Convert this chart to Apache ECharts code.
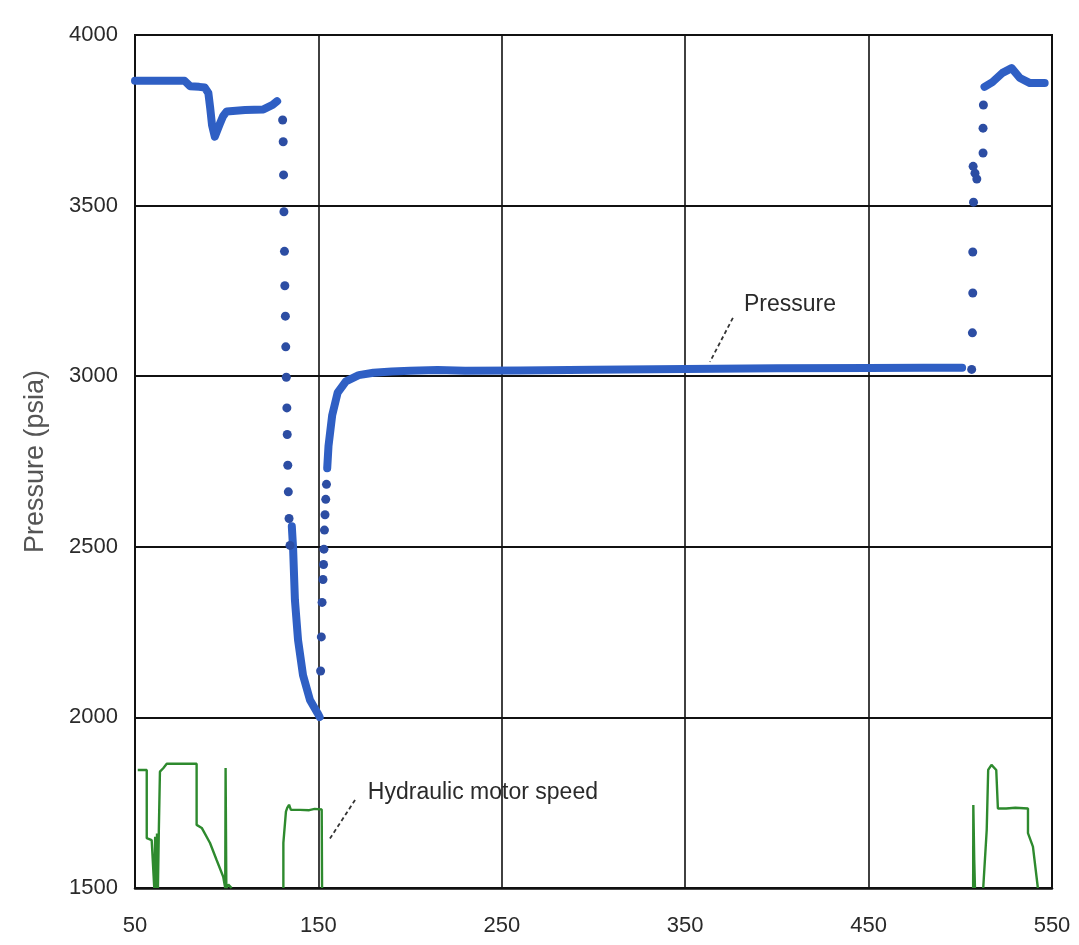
<!DOCTYPE html>
<html lang="en">
<head>
  <meta charset="UTF-8">
  <title>Pressure and hydraulic motor speed</title>
  <style type="text/css">
    html, body { margin: 0; padding: 0; background: #fff; }
    #main { width: 1079px; height: 945px; }
  </style>
</head>
<body>
  <div id="main"></div>
</body>
<script type="text/javascript" src="https://cdn.jsdelivr.net/npm/echarts@6/dist/echarts.min.js"></script>
<script type="text/javascript">
  // axis ticks
  var xTicks = [50, 150, 250, 350, 450, 550]
  var yTicks = [1500, 2000, 2500, 3000, 3500, 4000]

  // pressure, solid (dense) parts - null breaks the line where samples are sparse
  var pressureLine = [
    [50, 3866], [60, 3866], [70, 3866], [77, 3866], [80, 3850], [85, 3848], [88, 3846], [90, 3830],
    [91, 3786], [92, 3736], [93.5, 3702], [96, 3736], [98, 3762], [100, 3776], [110, 3780],
    [120, 3782], [125, 3795], [127.5, 3806],
    null,
    [135.5, 2560], [136.2, 2496], [137.2, 2344], [138.9, 2227], [141.6, 2124], [145.4, 2051],
    [149.5, 2013], [150.7, 2001],
    null,
    [154.8, 2730], [155.5, 2795], [157.5, 2885], [160.5, 2952], [165, 2985], [172, 3003],
    [180, 3010], [190, 3014], [200, 3016], [215, 3018], [230, 3016], [260, 3017], [300, 3019],
    [350, 3021], [400, 3023], [450, 3024], [480, 3025], [501, 3025],
    null,
    [513.2, 3848], [517.5, 3862], [523, 3889], [528, 3903], [532.5, 3874], [538, 3859], [546, 3859]
  ]

  // pressure, sparse samples (drawn as dots)
  var pressureDots = [
    [130.5, 3751], [130.8, 3687], [131, 3590], [131.2, 3482], [131.5, 3366], [131.7, 3265],
    [132, 3176], [132.2, 3086], [132.5, 2997], [132.8, 2907], [133, 2829], [133.3, 2739],
    [133.6, 2661], [134, 2583], [134.5, 2504],
    [151.2, 2136], [151.6, 2236], [152, 2337], [152.5, 2404], [152.8, 2448], [153, 2493],
    [153.3, 2549], [153.6, 2594], [154, 2639], [154.4, 2683],
    [506.2, 3020], [506.6, 3127], [506.8, 3244], [506.8, 3364], [507.2, 3510], [507, 3615],
    [508, 3595], [509, 3578], [512.4, 3654], [512.4, 3727], [512.6, 3795]
  ]

  // hydraulic motor speed (plotted on the same scale, rests on the 1500 line)
  var motorSpeed = [
    [51.5, 1846], [56.4, 1846], [56.4, 1646], [59.1, 1640], [60.5, 1500], [61, 1650], [61.5, 1500],
    [62, 1660], [62.5, 1500], [63, 1670], [63.6, 1841], [65.4, 1851], [67.3, 1864], [75, 1864],
    [83.6, 1864], [83.6, 1685], [86.4, 1676], [90.9, 1632], [94.5, 1582], [98.1, 1533],
    [99.2, 1500], [99.4, 1852], [99.8, 1500], [100.9, 1510], [102.7, 1500],
    null,
    [130.9, 1500], [130.9, 1632], [132.3, 1724], [133, 1735], [134, 1744], [135, 1729],
    [140, 1729], [145, 1728], [148, 1732], [151.8, 1730], [152, 1500],
    null,
    [507, 1500], [507.1, 1743], [507.6, 1582], [508, 1500],
    null,
    [512.5, 1500], [514.4, 1670], [515.2, 1846], [517, 1861], [519.6, 1846], [520.5, 1733],
    [525, 1733], [530, 1735], [536.9, 1733], [536.9, 1661], [539.6, 1621], [542.3, 1500]
  ]

  // annotation anchors in data coordinates: text centre, leader start, leader end
  var pressureNote = { text: 'Pressure', at: [407.1, 3209], from: [376, 3171], to: [363.5, 3042] }
  var speedNote = { text: 'Hydraulic motor speed', at: [239.7, 1778], from: [170, 1758], to: [155.8, 1641] }

  var myChart = echarts.init(document.getElementById('main'))
  var labelFont = { fontFamily: 'Liberation Sans', fontSize: 22, color: '#2a2a2a' }
  var plain = function (v) { return String(v) }

  var option = {
    animation: false,
    backgroundColor: '#fff',
    grid: {
      left: 135, right: 27, top: 35, bottom: 57,
      show: true, borderColor: '#111', borderWidth: 2
    },
    xAxis: {
      type: 'value',
      min: xTicks[0],
      max: xTicks[xTicks.length - 1],
      interval: 100,
      axisLine: { show: true, lineStyle: { color: '#111', width: 2.5 } },
      axisTick: { show: false },
      axisLabel: Object.assign({ margin: 27, formatter: plain }, labelFont),
      splitLine: { show: true, lineStyle: { color: '#111', width: 1.6 } }
    },
    yAxis: {
      type: 'value',
      min: yTicks[0],
      max: yTicks[yTicks.length - 1],
      interval: 500,
      name: 'Pressure (psia)',
      nameLocation: 'middle',
      nameGap: 86,
      nameTextStyle: { fontFamily: 'Liberation Sans', fontSize: 27, color: '#555' },
      axisLine: { show: true, lineStyle: { color: '#111', width: 2 } },
      axisTick: { show: false },
      axisLabel: Object.assign({ margin: 17, formatter: plain }, labelFont),
      splitLine: { show: true, lineStyle: { color: '#111', width: 2 } }
    },
    series: [{
      name: 'Hydraulic motor speed',
      type: 'line',
      data: motorSpeed,
      showSymbol: false,
      connectNulls: false,
      lineStyle: { color: '#2e8a2e', width: 2.4 },
      z: 3
    }, {
      name: 'Pressure',
      type: 'line',
      data: pressureLine,
      showSymbol: false,
      connectNulls: false,
      lineStyle: { color: '#2f5fc4', width: 8, cap: 'round', join: 'round' },
      z: 4
    }, {
      name: 'Pressure samples',
      type: 'scatter',
      data: pressureDots,
      symbol: 'circle',
      symbolSize: 9,
      itemStyle: { color: '#2c4da3', opacity: 1 },
      z: 5
    }]
  }
  myChart.setOption(option)

  // annotations: place text and dashed leaders through the chart's own coordinate system
  function note(n) {
    var p = myChart.convertToPixel('grid', n.at)
    var a = myChart.convertToPixel('grid', n.from)
    var b = myChart.convertToPixel('grid', n.to)
    return [{
      type: 'text', x: p[0], y: p[1],
      style: { text: n.text, fill: '#2a2a2a', font: '23px "Liberation Sans"', textAlign: 'center', textVerticalAlign: 'middle' }
    }, {
      type: 'line', shape: { x1: a[0], y1: a[1], x2: b[0], y2: b[1] },
      style: { stroke: '#333', lineWidth: 1.8, lineDash: [4, 3] }
    }]
  }
  myChart.setOption({ graphic: note(pressureNote).concat(note(speedNote)) })
</script>
</html>
